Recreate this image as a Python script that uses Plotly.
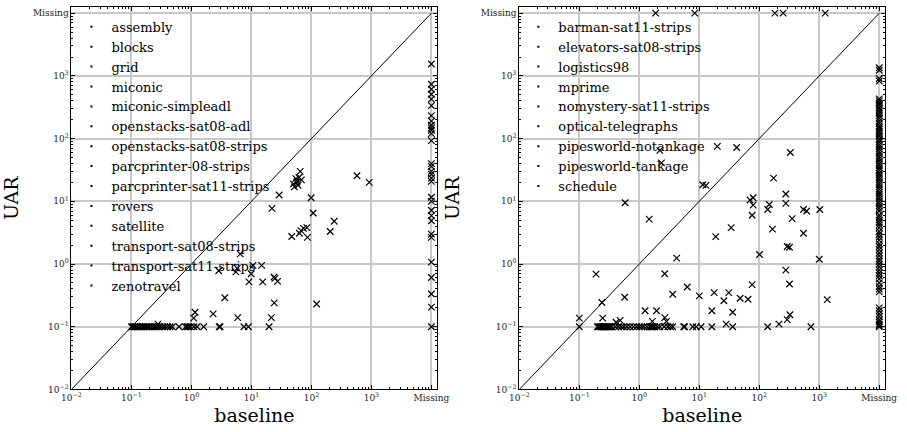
import plotly.graph_objects as go

# ---------------- data ----------------
LEFT_DOMAINS = ["assembly", "blocks", "grid", "miconic", "miconic-simpleadl",
                "openstacks-sat08-adl", "openstacks-sat08-strips", "parcprinter-08-strips",
                "parcprinter-sat11-strips", "rovers", "satellite", "transport-sat08-strips",
                "transport-sat11-strips", "zenotravel"]
RIGHT_DOMAINS = ["barman-sat11-strips", "elevators-sat08-strips", "logistics98", "mprime",
                 "nomystery-sat11-strips", "optical-telegraphs", "pipesworld-notankage",
                 "pipesworld-tankage", "schedule"]

MISSING = 1e4  # position used for "Missing"

# left panel: solved by both
left_x = [0.277, 1.15, 1.09, 2.3, 3.6, 5.9, 2.85, 5.5, 5.8, 6.5, 9.9, 10.6, 9.1, 14.8, 15.4,
          23.8, 24.7, 27.3, 24, 21.5, 122, 47, 63, 67, 74, 84, 86, 206, 240, 22, 29, 99, 107,
          575, 920, 50, 52, 55, 57, 58, 60, 62, 65, 68]
left_y = [0.11, 0.17, 0.137, 0.16, 0.29, 0.14, 0.78, 0.75, 0.85, 1.45, 0.70, 0.95, 0.52, 0.95, 0.52,
          0.62, 0.59, 0.53, 0.24, 0.14, 0.23, 2.75, 3.1, 3.4, 3.7, 3.8, 2.66, 3.3, 4.8, 7.7, 12.6, 11.4, 6.5,
          25.6, 20, 19, 17, 23, 20, 21, 18, 24, 30, 22]
# left panel: UAR = 0.1 row
left_row_x = [0.1, 0.105, 0.11, 0.115, 0.12, 0.125, 0.13, 0.14, 0.15, 0.16, 0.17, 0.18, 0.19, 0.2,
              0.22, 0.24, 0.26, 0.28, 0.3, 0.33, 0.36, 0.4, 0.44, 0.48, 0.62, 0.8, 0.85, 0.9, 0.96,
              1.1, 1.24, 1.6, 2.9, 3.0, 7.5, 8.9, 19.7]
left_row_y = [0.1] * len(left_row_x)
# left panel: baseline missing
left_miss_y = [1550, 735, 612, 510, 427, 335, 233, 190, 163, 148, 136, 120, 93, 40, 36, 30, 27,
               23.4, 20.8, 11.6, 10, 7.2, 5.9, 4.9, 3.0, 2.66, 1.07, 0.61, 0.333, 0.205, 0.1]

# right panel: solved by both
right_x = [1.46, 0.58, 2.2, 2.34, 20, 42, 330, 173, 11.4, 12.9, 277, 70, 79, 79, 138, 147, 277,
           546, 617, 1020, 76, 353, 34, 166, 546, 18.8, 292, 319, 4.2, 101, 1000, 2.65, 277,
           6.3, 3.6, 10, 17.7, 31, 25.7, 48, 65, 76, 319, 1360, 1.25, 1.94, 16.2, 36, 1.65,
           2.66, 2.83, 28, 213, 292, 324, 0.19, 0.1, 0.238, 0.57, 0.245, 0.41, 0.48]
right_y = [5.2, 9.5, 65, 41, 75, 72, 60, 23.4, 18.4, 18, 13.1, 10.5, 11.4, 8.7, 7.4, 8.9, 9.25,
           7.4, 7.0, 7.4, 6.0, 5.3, 3.8, 3.6, 3.1, 2.73, 1.9, 1.85, 1.24, 1.42, 1.19, 0.70, 0.80,
           0.43, 0.33, 0.31, 0.35, 0.35, 0.26, 0.285, 0.274, 0.47, 0.48, 0.27, 0.18, 0.18, 0.18, 0.17, 0.122,
           0.14, 0.122, 0.11, 0.11, 0.13, 0.155, 0.69, 0.137, 0.243, 0.295, 0.137, 0.118, 0.126]
# right panel: UAR = 0.1 row
right_row_x = [0.1, 0.2, 0.21, 0.22, 0.23, 0.24, 0.25, 0.26, 0.27, 0.28, 0.29, 0.3, 0.31, 0.32,
               0.33, 0.35, 0.4, 0.45, 0.5, 0.55, 0.62, 0.7, 0.8, 0.9, 1.0, 1.1, 1.2, 1.35, 1.5,
               1.55, 1.6, 1.65, 1.7, 1.8, 2.0, 2.2, 2.6, 3.0, 3.3, 3.6, 5.5, 5.7, 7.8, 8.9, 10.7,
               16.2, 36, 138, 725]
right_row_y = [0.1] * len(right_row_x)
# right panel: UAR missing (top row)
right_top_x = [1.87, 8.4, 182, 250, 1260]
# right panel: baseline missing (right column)
right_miss_y = [1350, 1230, 910, 830, 430, 400, 370, 340, 310, 290, 270, 250, 230, 210, 190, 175,
                160, 150, 140, 130, 120, 110, 100, 95, 88, 80, 74, 68, 62, 57, 52, 48, 44, 40, 37,
                34, 31, 28, 26, 24, 22, 20, 18.5, 17, 15.5, 14, 13, 12, 11, 10, 9.2, 8.4, 7.7, 7.0,
                6.0, 5.5, 5.0, 4.6, 4.2, 3.8, 3.3, 3.0, 2.7, 2.4, 2.1, 1.9, 1.7, 1.5, 1.35, 1.2,
                1.1, 1.0, 0.9, 0.8, 0.72, 0.65, 0.58, 0.5, 0.44, 0.4, 0.36, 0.2, 0.18, 0.16,
                0.145, 0.13, 0.12, 0.11, 0.105, 0.1]

DIAG = [1e-2, 1e4]
TICK_VALS = [1e-2, 1e-1, 1, 10, 100, 1000, 1e4]
TICK_TEXT = ["10<sup>\u22122</sup>", "10<sup>\u22121</sup>", "10<sup>0</sup>", "10<sup>1</sup>",
             "10<sup>2</sup>", "10<sup>3</sup>", "Missing"]

# ---------------- figure ----------------
FONT = "DejaVu Serif"
fig = go.Figure()

mk = dict(symbol="x-thin", size=6.5, color="black", line=dict(color="black", width=1.2))


def add_points(xs, ys, xa, ya):
    fig.add_trace(go.Scatter(x=xs, y=ys, mode="markers", marker=mk, showlegend=False,
                             xaxis=xa, yaxis=ya, hoverinfo="skip"))


# diagonals
for xa, ya in (("x", "y"), ("x2", "y2")):
    fig.add_trace(go.Scatter(x=DIAG, y=DIAG, mode="lines", line=dict(color="black", width=1),
                             showlegend=False, xaxis=xa, yaxis=ya, hoverinfo="skip"))

add_points(left_x, left_y, "x", "y")
add_points(left_row_x, left_row_y, "x", "y")
add_points([MISSING] * len(left_miss_y), left_miss_y, "x", "y")

add_points(right_x, right_y, "x2", "y2")
add_points(right_row_x, right_row_y, "x2", "y2")
add_points(right_top_x, [MISSING] * len(right_top_x), "x2", "y2")
add_points([MISSING] * len(right_miss_y), right_miss_y, "x2", "y2")

# legend entries
for name in LEFT_DOMAINS:
    fig.add_trace(go.Scatter(x=[None], y=[None], mode="markers", name=name,
                             marker=dict(size=2, color="black", symbol="square"),
                             xaxis="x", yaxis="y", legend="legend"))
for name in RIGHT_DOMAINS:
    fig.add_trace(go.Scatter(x=[None], y=[None], mode="markers", name=name,
                             marker=dict(size=2, color="black", symbol="square"),
                             xaxis="x2", yaxis="y2", legend="legend2"))

minor_vals = [k * 10 ** d for d in range(-2, 4) for k in range(2, 10)]


def axis(domain, title, anchor, standoff):
    return dict(
        type="log", range=[-2, 4.1], domain=domain, anchor=anchor,
        tickvals=TICK_VALS, ticktext=TICK_TEXT,
        tickfont=dict(family=FONT, size=9, color="#222"),
        ticks="inside", ticklen=4, tickwidth=1, tickcolor="black",
        showline=True, linecolor="black", linewidth=1, mirror="allticks",
        showgrid=True, gridcolor="#c8c8c8", gridwidth=1.5,
        zeroline=False,
        minor=dict(tickvals=minor_vals, ticks="inside", ticklen=2, tickcolor="black",
                   showgrid=False),
        title=dict(text=title, font=dict(family=FONT, size=19, color="black"), standoff=standoff),
    )


ydom = [1 - 394 / 432, 1 - 7 / 432]
fig.update_layout(
    width=907, height=432,
    margin=dict(l=0, r=0, t=0, b=0),
    paper_bgcolor="white", plot_bgcolor="white",
    xaxis=axis([63 / 907, 438 / 907], "baseline", "y", 6),
    yaxis=axis(ydom, "UAR", "x", 16),
    xaxis2=axis([522 / 907, 897 / 907], "baseline", "y2", 6),
    yaxis2=axis(ydom, "UAR", "x2", 16),
    legend=dict(x=63 / 907, y=1 - 12 / 432, xanchor="left", yanchor="top",
                bgcolor="rgba(0,0,0,0)", borderwidth=0,
                font=dict(family=FONT, size=13, color="black"), itemwidth=30),
    legend2=dict(x=521 / 907, y=1 - 12 / 432, xanchor="left", yanchor="top",
                 bgcolor="rgba(0,0,0,0)", borderwidth=0,
                 font=dict(family=FONT, size=13, color="black"), itemwidth=30),
)

fig.write_html("out.html")
